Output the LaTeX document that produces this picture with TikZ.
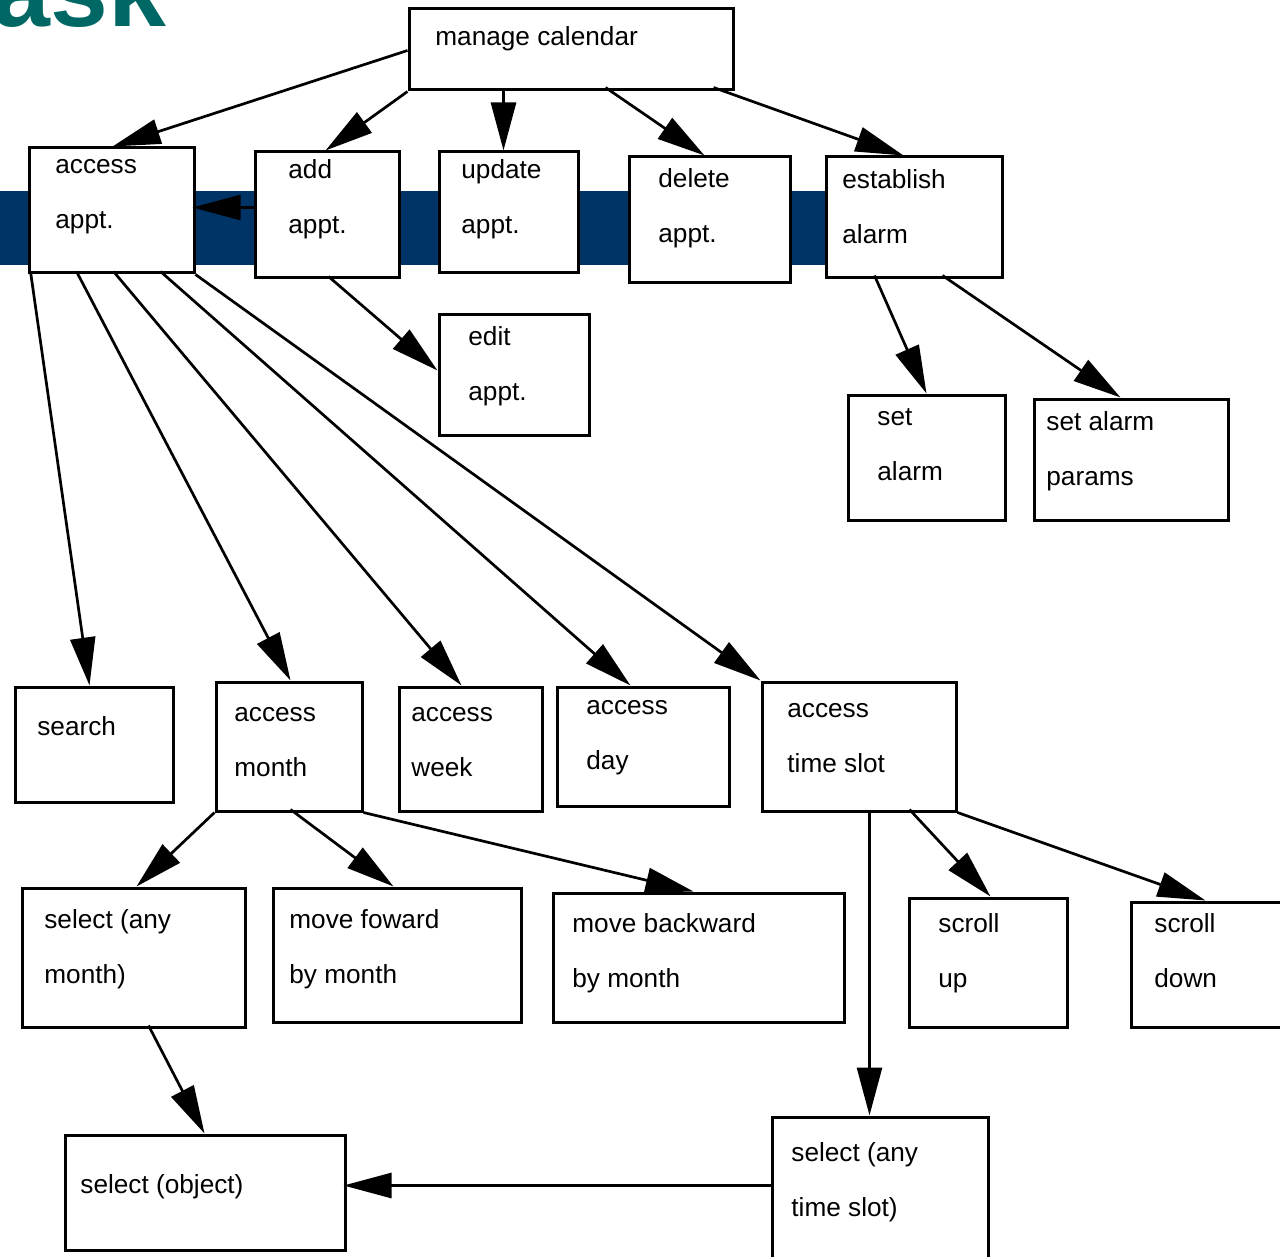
\documentclass[tikz,border=0pt]{standalone}
\usepackage{fontspec}
\setmainfont{Liberation Sans}
\usetikzlibrary{arrows.meta,fit}
\definecolor{bandnavy}{RGB}{0,51,102}
\definecolor{titleteal}{RGB}{0,104,100}
\newcommand\tskbox[8]{%
  \node[taskbox, fit={(#2,#3) (#4,#5)}] (#1) {};
  \node[tasklbl] (#1-t) at (#6,#7-22) {\rule{0pt}{11pt}#8};
}
\begin{document}
\begin{tikzpicture}[x=0.5pt,y=-0.5pt,
  taskbox/.style={draw=black, fill=white, line width=1.5pt, inner sep=0pt},
  tasklbl/.style={inner sep=0pt, anchor=north west, align=left, font=\fontsize{13.1}{27.5}\selectfont},
  conn/.style={line width=1.35pt, -{Triangle[length=24pt,width=12.5pt]}}]
\useasboundingbox (0,0) rectangle (1280,1257);
\clip (0,0) rectangle (1280,1257);

% title fragment and band
\node[anchor=base west, inner sep=0pt, text=titleteal, font=\fontsize{52}{60}\selectfont\bfseries] (title) at (-8,27) {ask};
\fill[bandnavy] (0,191) rectangle (830,265);

% boxes: name, x1, y1, x2, y2, text x, first baseline, text
\tskbox{man}{409}{9}{733}{90}{435}{45}{manage calendar}
\tskbox{acc}{29}{148}{194}{273}{55}{173}{access\\appt.}
\tskbox{add}{255}{152}{399}{278}{288}{178}{add\\appt.}
\tskbox{upd}{439}{152}{578}{273}{461}{178}{update\\appt.}
\tskbox{del}{629}{157}{790}{283}{658}{187}{delete\\appt.}
\tskbox{est}{826}{157}{1002}{278}{842}{188}{establish\\alarm}
\tskbox{edit}{439}{315}{589}{435}{468}{345}{edit\\appt.}
\tskbox{seta}{848}{395}{1005}{520}{877}{425}{set\\alarm}
\tskbox{setp}{1034}{399}{1228}{520}{1046}{430}{set alarm\\params}
\tskbox{srch}{15}{687}{173}{802}{37}{735}{search}
\tskbox{mon}{216}{682}{362}{811}{234}{721}{access\\month}
\tskbox{week}{399}{687}{542}{811}{411}{721}{access\\week}
\tskbox{day}{557}{687}{729}{806}{586}{714}{access\\day}
\tskbox{slot}{762}{682}{956}{811}{787}{717}{access\\time slot}
\tskbox{selm}{22}{888}{245}{1027}{44}{928}{select (any\\month)}
\tskbox{fwd}{273}{888}{521}{1022}{289}{928}{move foward\\by month}
\tskbox{bwd}{553}{893}{844}{1022}{572}{932}{move backward\\by month}
\tskbox{sup}{909}{898}{1067}{1027}{938}{932}{scroll\\up}
\tskbox{sdn}{1131}{902}{1290}{1027}{1154}{932}{scroll\\down}
\tskbox{obj}{65}{1135}{345}{1250}{80}{1193}{select (object)}
\tskbox{sels}{772}{1117}{988}{1275}{791}{1161}{select (any\\time slot)}

% connectors
\draw[conn] ([shift={(0,43)}]man.north west) -- ([shift={(85,0)}]acc.north west);
\draw[conn] (man.south west) -- ([shift={(72,0)}]add.north west);
\draw[conn] ([shift={(96,81)}]man.north west) -- ([shift={(66,0)}]upd.north west);
\draw[conn] ([shift={(198,80)}]man.north west) -- ([shift={(77,0)}]del.north west);
\draw[conn] ([shift={(306,80)}]man.north west) -- ([shift={(79,0)}]est.north west);
\draw[conn] ([shift={(0,57)}]add.north west) -- ([shift={(165,61)}]acc.north west);
\draw[conn] ([shift={(75,126)}]add.north west) -- ([shift={(0,57)}]edit.north west);
\draw[conn] ([shift={(50,120)}]est.north west) -- ([shift={(80,0)}]seta.north west);
\draw[conn] ([shift={(118,120)}]est.north west) -- ([shift={(88,0)}]setp.north west);
\draw[conn] ([shift={(3,125)}]acc.north west) -- ([shift={(76,0)}]srch.north west);
\draw[conn] ([shift={(49,125)}]acc.north west) -- ([shift={(76,0)}]mon.north west);
\draw[conn] ([shift={(86,125)}]acc.north west) -- ([shift={(64,0)}]week.north west);
\draw[conn] ([shift={(133,125)}]acc.north west) -- ([shift={(75,0)}]day.north west);
\draw[conn] (acc.south east) -- (slot.north west);
\draw[conn] (mon.south west) -- ([shift={(116,0)}]selm.north west);
\draw[conn] ([shift={(76,129)}]mon.north west) -- ([shift={(122,0)}]fwd.north west);
\draw[conn] (mon.south east) -- ([shift={(142,0)}]bwd.north west);
\draw[conn] ([shift={(109,129)}]slot.north west) -- ([shift={(99,0)}]sels.north west);
\draw[conn] ([shift={(149,129)}]slot.north west) -- ([shift={(83,0)}]sup.north west);
\draw[conn] (slot.south east) -- ([shift={(76,0)}]sdn.north west);
\draw[conn] ([shift={(128,139)}]selm.north west) -- ([shift={(141,0)}]obj.north west);
\draw[conn] ([shift={(0,70)}]sels.north west) -- ([shift={(280,52)}]obj.north west);
\end{tikzpicture}
\end{document}
